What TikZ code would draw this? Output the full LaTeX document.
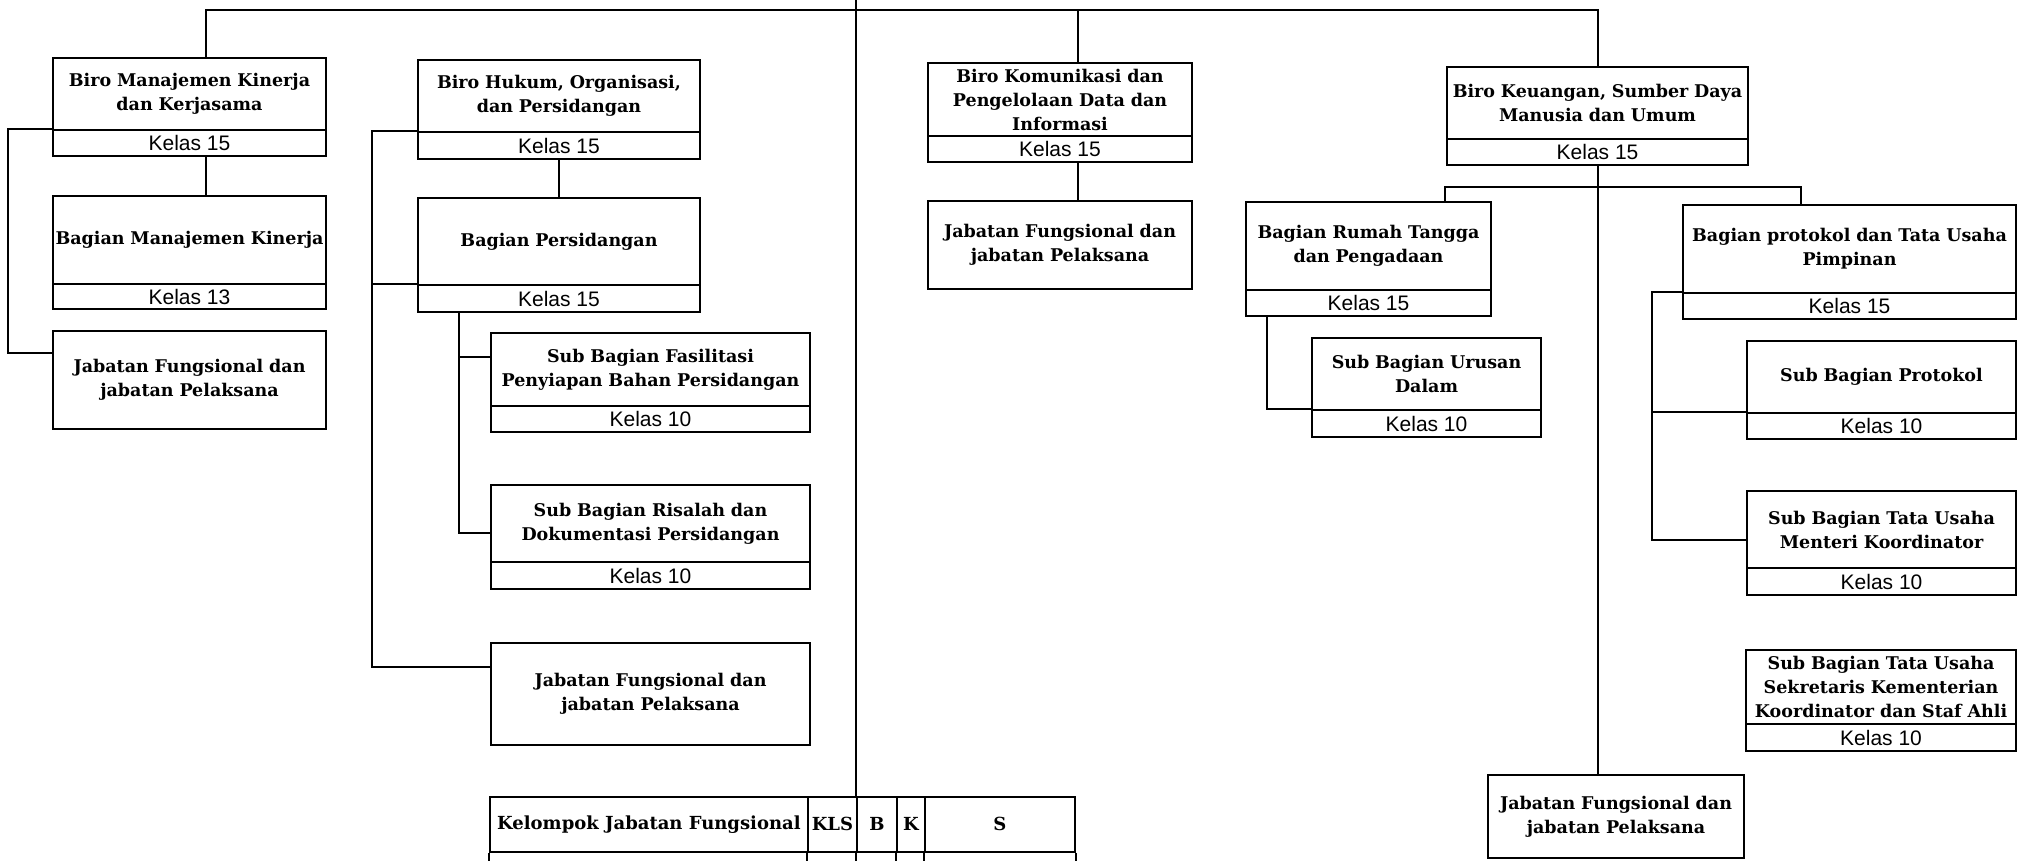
\documentclass[tikz,border=0pt]{standalone}
\usepackage{fontspec}
\newfontfamily\tfont{DejaVu Serif}
\newfontfamily\kfont{Liberation Sans}
\begin{document}
\begin{tikzpicture}[x=1pt,y=-1pt,
  titlebox/.style={draw, line width=2pt, align=center, inner sep=1pt,
    font=\tfont\bfseries\fontsize{17.5}{24}\selectfont},
  kelasbox/.style={draw, line width=2pt, align=center, inner sep=0pt,
    font=\kfont\fontsize{21}{22}\selectfont},
  cell/.style={draw, line width=1.8pt, align=center, inner sep=0pt, anchor=north west,
    minimum height=55pt, font=\tfont\bfseries\fontsize{18}{24}\selectfont},
  conn/.style={line width=1.7pt}]
\useasboundingbox (0,0) rectangle (2017,860);
\newcommand\orgbox[8]{%
  \pgfmathsetmacro\bw{#4-#2}\pgfmathsetmacro\bh{#5-#3}%
  \pgfmathsetmacro\kh{#6-#5}\pgfmathsetmacro\tw{#4-#2-4}%
  \node[titlebox, anchor=north west, minimum width=\bw pt, minimum height=\bh pt,
    text width=\tw pt] (#1) at (#2,#3) {#7};
  \node[kelasbox, anchor=north west, minimum width=\bw pt, minimum height=\kh pt]
    (#1k) at (#2,#5) {#8};}
\newcommand\plainbox[6]{%
  \pgfmathsetmacro\bw{#4-#2}\pgfmathsetmacro\bh{#5-#3}\pgfmathsetmacro\tw{#4-#2-4}%
  \node[titlebox, anchor=north west, minimum width=\bw pt, minimum height=\bh pt,
    text width=\tw pt] (#1) at (#2,#3) {#6};}
% boxes
\orgbox{b1}{52}{57}{325}{129}{155}{Biro Manajemen Kinerja\\dan Kerjasama}{Kelas 15}
\orgbox{b2}{52}{195}{325}{283}{308}{Bagian Manajemen Kinerja}{Kelas 13}
\plainbox{b3}{52}{330}{325}{428}{Jabatan Fungsional dan\\jabatan Pelaksana}
\orgbox{b4}{417}{59}{699}{131}{158}{Biro Hukum, Organisasi,\\dan Persidangan}{Kelas 15}
\orgbox{b5}{417}{197}{699}{284}{311}{Bagian Persidangan}{Kelas 15}
\orgbox{b6}{490}{332}{809}{405}{431}{Sub Bagian Fasilitasi\\Penyiapan Bahan Persidangan}{Kelas 10}
\orgbox{b7}{490}{484}{809}{561}{588}{Sub Bagian Risalah dan\\Dokumentasi Persidangan}{Kelas 10}
\plainbox{b8}{490}{642}{809}{744}{Jabatan Fungsional dan\\jabatan Pelaksana}
\orgbox{b9}{927}{62}{1191}{135}{161}{Biro Komunikasi dan\\Pengelolaan Data dan\\Informasi}{Kelas 15}
\plainbox{b10}{927}{200}{1191}{288}{Jabatan Fungsional dan\\jabatan Pelaksana}
\orgbox{b11}{1446}{66}{1747}{138}{164}{Biro Keuangan, Sumber Daya\\Manusia dan Umum}{Kelas 15}
\orgbox{b12}{1245}{201}{1490}{289}{315}{Bagian Rumah Tangga\\dan Pengadaan}{Kelas 15}
\orgbox{b13}{1682}{204}{2015}{292}{318}{Bagian protokol dan Tata Usaha\\Pimpinan}{Kelas 15}
\orgbox{b15}{1311}{337}{1540}{409}{436}{Sub Bagian Urusan\\Dalam}{Kelas 10}
\orgbox{b16}{1746}{340}{2015}{412}{438}{Sub Bagian Protokol}{Kelas 10}
\orgbox{b17}{1746}{490}{2015}{567}{594}{Sub Bagian Tata Usaha\\Menteri Koordinator}{Kelas 10}
\orgbox{b18}{1745}{649}{2015}{723}{750}{Sub Bagian Tata Usaha\\Sekretaris Kementerian\\Koordinator dan Staf Ahli}{Kelas 10}
\plainbox{b14}{1487}{774}{1743}{857}{Jabatan Fungsional dan\\jabatan Pelaksana}
% table
\node[cell, minimum width=318pt] (t1) at (489,796) {Kelompok Jabatan Fungsional};
\node[cell, minimum width=49pt] (t2) at (807,796) {KLS};
\node[cell, minimum width=40pt] (t3) at (856,796) {B};
\node[cell, minimum width=28pt] (t4) at (896,796) {K};
\node[cell, minimum width=150pt] (t5) at (924,796) {S};
\foreach \c in {t1,t2,t3,t4,t5} \draw[line width=1.8pt] (\c.south west) -- ++(0,12);
\draw[line width=1.8pt] (t5.south east) -- ++(0,12);
% coordinates for connector lines
\coordinate (busA) at (206,10);
\coordinate (busC) at (1078,10);
\coordinate (busD) at (1598,10);
\coordinate (ctop) at (856,0);
\coordinate (brA) at (8,0);
\coordinate (brB) at (372,0);
\coordinate (brC) at (459,0);
\coordinate (sbL) at (1445,187);
\coordinate (sbR) at (1801,187);
\coordinate (brD) at (1267,0);
\coordinate (brE) at (1652,0);
% connectors
\draw[conn] (b1.north -| busA) -- (busA) -- (busD) -- (busD |- b11.north);
\draw[conn] (busC) -- (busC |- b9.north);
\draw[conn] (ctop) -- (ctop |- t3.north);
\draw[conn] (b1k.south -| busA) -- (b2.north -| busA);
\draw[conn] (b1k.north west) -| (brA |- b3.north west) -- ++(0,23) -- ([yshift=-23pt]b3.north west);
\draw[conn] (b4k.south) -- (b5.north);
\draw[conn] (b4k.north west) -| ([yshift=-25pt]b8.north west -| brB) -- ([yshift=-25pt]b8.north west);
\draw[conn] (b5k.north west) -- (b5k.north west -| brB);
\draw[conn] (b5k.south -| brC) |- ([yshift=-49pt]b7.north west);
\draw[conn] (brC |- b6.north) ++(0,25) -- ([yshift=-25pt]b6.north west);
\draw[conn] (b9k.south -| busC) -- (b10.north -| busC);
\draw[conn] (b11k.south -| busD) -- (b14.north -| busD);
\draw[conn] (b12.north -| sbL) -- (sbL) -- (sbR) -- (b13.north -| sbR);
\draw[conn] (b12k.south -| brD) |- (b15k.north west);
\draw[conn] (b13k.north west) -| ([yshift=-50pt]b17.north west -| brE) -- ([yshift=-50pt]b17.north west);
\draw[conn] (b16k.north west) -- (b16k.north west -| brE);
\end{tikzpicture}
\end{document}
